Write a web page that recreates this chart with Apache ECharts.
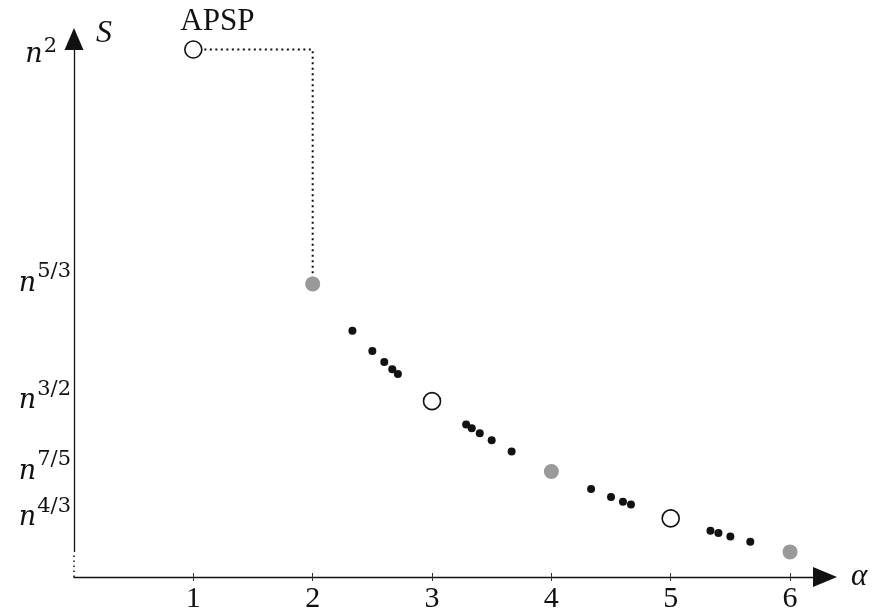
<!DOCTYPE html>
<html><head><meta charset="utf-8">
<script src="https://cdn.jsdelivr.net/npm/echarts@6/dist/echarts.min.js"></script>
<style>html,body{margin:0;padding:0;background:#fff}#c{width:873px;height:610px}</style>
</head><body><div id="c"></div>
<script>
// ---- data ----
const xTicks = [1, 2, 3, 4, 5, 6];
const xTickLabels = ['1', '2', '3', '4', '5', '6'];
const yTickValues = [2, 1.6667, 1.5, 1.4, 1.3333];
const yTickExponents = ['2', '5/3', '3/2', '7/5', '4/3'];
const openAlpha = [1, 3, 5];
const openS = [2, 1.5, 1.3333];
const greyAlpha = [2, 4, 6];
const greyS = [1.6667, 1.4, 1.2857];
const dotAlpha = [2.333, 2.5, 2.6, 2.667, 2.714, 3.286, 3.333, 3.4, 3.5, 3.667, 4.333, 4.5, 4.6, 4.667, 5.333, 5.4, 5.5, 5.667];
const dotS = [1.6, 1.5714, 1.5556, 1.5455, 1.5385, 1.4667, 1.4615, 1.4545, 1.4444, 1.4286, 1.375, 1.3636, 1.3571, 1.3529, 1.3158, 1.3125, 1.3077, 1.3];
const guideAlpha = [1, 2, 2];
const guideS = [2, 2, 1.6667];
const apspLabel = 'APSP';
const xName = 'α';
const yName = 'S';
const xMin = 0, xMax = 6.293;
const yMin = 1.25, yMax = 2.0149;
const yAxisBreak = 1.2857;

const FONT = 'Liberation Serif';
const MFONT = 'DejaVu Serif';
const INK = '#111';

const zip = (a, b) => a.map((v, i) => [v, b[i]]);

const chart = echarts.init(document.getElementById('c'), null, {renderer: 'canvas'});
chart.setOption({
  animation: false,
  backgroundColor: '#fff',
  grid: {left: 74, right: 48, top: 39, bottom: 33, containLabel: false, outerBoundsMode: 'none'},
  xAxis: [{
    type: 'value', min: xMin, max: xMax, position: 'bottom',
    name: xName, nameLocation: 'end', nameGap: 26,
    nameTextStyle: {fontFamily: FONT, fontStyle: 'italic', fontSize: 31, color: INK},
    axisLine: {show: true, symbol: ['none', 'triangle'], symbolSize: [20, 24], lineStyle: {color: INK, width: 1.3}},
    axisTick: {show: true, customValues: xTicks, length: 4, lineStyle: {color: '#333', width: 1}},
    axisLabel: {show: true, customValues: xTicks, margin: 7, fontFamily: FONT, fontSize: 30, color: INK,
      formatter: v => xTickLabels[xTicks.indexOf(Math.round(v))] || ''},
    splitLine: {show: false}
  }, {
    type: 'value', min: xMin, max: xMax, position: 'bottom', gridIndex: 0,
    axisLine: {show: false},
    axisTick: {show: true, inside: true, customValues: xTicks, length: 4, lineStyle: {color: '#333', width: 1}},
    axisLabel: {show: false},
    splitLine: {show: false}
  }],
  yAxis: {
    type: 'value', min: yMin, max: yMax,
    name: yName, nameLocation: 'end', nameGap: -11,
    nameTextStyle: {fontFamily: FONT, fontStyle: 'italic', fontSize: 32, color: INK, align: 'left', verticalAlign: 'bottom', padding: [0, 0, 0, 22]},
    axisLine: {show: false},
    axisTick: {show: false},
    splitLine: {show: false},
    axisLabel: {
      show: true, customValues: yTickValues, margin: 3,
      formatter: function (v) {
        let best = 0;
        yTickValues.forEach((t, i) => { if (Math.abs(t - v) < Math.abs(yTickValues[best] - v)) best = i; });
        if (best === 0) return '{n2|n}{s2|' + yTickExponents[best] + '}';
        return '{n|n}{s|' + yTickExponents[best] + '}';
      },
      rich: {
        n: {fontFamily: MFONT, fontStyle: 'italic', fontSize: 27, color: INK},
        s: {fontFamily: MFONT, fontSize: 21, color: INK, padding: [0, 0, 24, 1]},
        n2: {fontFamily: MFONT, fontStyle: 'italic', fontSize: 27, color: INK, padding: [11, 0, 0, 0]},
        s2: {fontFamily: MFONT, fontSize: 21, color: INK, padding: [0, 14, 6, 1]}
      }
    }
  },
  series: [{
    type: 'line',
    data: zip(guideAlpha, guideS),
    symbol: 'none',
    lineStyle: {color: INK, width: 2, type: [2, 3.5]},
    z: 1,
    markLine: {
      silent: true, animation: false,
      symbol: ['none', 'none'],
      label: {show: false},
      lineStyle: {color: INK, width: 1.3, type: 'solid'},
      data: [
        [{coord: [xMin, yAxisBreak], symbol: 'none', lineStyle: {type: 'solid', color: INK, width: 1.3}},
         {coord: [xMin, yMax], symbol: 'triangle', symbolSize: [19, 22]}],
        [{coord: [xMin, yMin], symbol: 'none', lineStyle: {type: [1.5, 3.5], color: INK, width: 1.5}},
         {coord: [xMin, yAxisBreak], symbol: 'none'}]
      ]
    }
  }, {
    type: 'scatter',
    data: zip(dotAlpha, dotS),
    symbol: 'circle', symbolSize: 8,
    itemStyle: {color: INK, opacity: 1},
    z: 3
  }, {
    type: 'scatter',
    data: zip(greyAlpha, greyS),
    symbol: 'circle', symbolSize: 15,
    itemStyle: {color: '#999', opacity: 1},
    z: 3
  }, {
    type: 'scatter',
    data: openAlpha.map((a, i) => i === 0 ? {
      value: [a, openS[i]],
      label: {show: true, formatter: apspLabel, position: 'top', offset: [24, 2], distance: 5,
        fontFamily: FONT, fontSize: 31, color: INK, opacity: 1}
    } : [a, openS[i]]),
    symbol: 'circle', symbolSize: 17,
    itemStyle: {color: '#fff', borderColor: INK, borderWidth: 1.6, opacity: 1},
    z: 4
  }]
});
</script>
</body></html>
